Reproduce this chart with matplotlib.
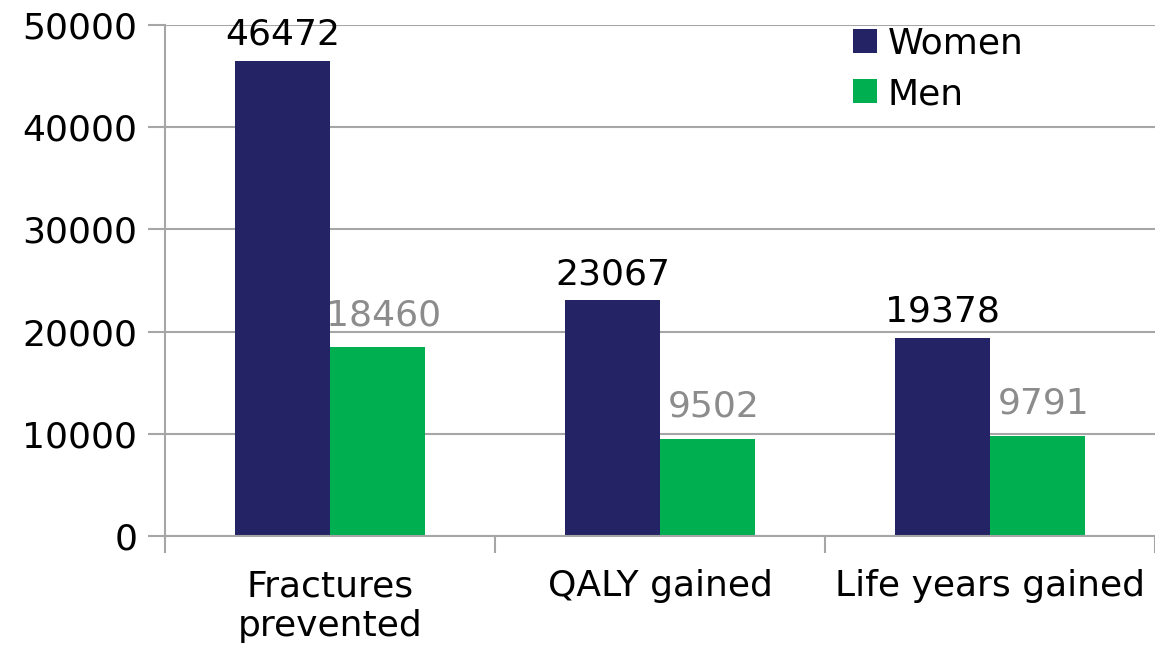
import matplotlib.pyplot as plt
import numpy as np

categories = ['Fractures\nprevented', 'QALY gained', 'Life years gained']
women = [46472, 23067, 19378]
men = [18460, 9502, 9791]

x = np.arange(len(categories))
w = 0.287

fig = plt.figure(figsize=(11.55, 6.49), dpi=100)
ax = fig.add_axes([0.1429, 0.1741, 0.857, 0.7874])

ax.bar(x - w / 2, women, w, color='#232365', label='Women')
ax.bar(x + w / 2, men, w, color='#00B050', label='Men')

# value labels
for xi, v in zip(x, women):
    ax.text(xi - w / 2, v + 900, str(v), ha='center', va='bottom', fontsize=26, color='black')
for xi, v in zip(x, men):
    ax.text(xi + w / 2 + 0.02, v + 1500, str(v), ha='center', va='bottom', fontsize=26, color='#8C8C8C')

ax.set_xlim(-0.5, 2.5)
ax.set_ylim(0, 50000)
ax.set_yticks(range(0, 50001, 10000))
ax.yaxis.grid(True, color='#A6A6A6', linewidth=1.5)
ax.set_axisbelow(True)

ax.set_xticks([-0.5, 0.5, 1.5, 2.5])
ax.set_xticklabels([])
ax.set_xticks(x, minor=True)
ax.set_xticklabels(categories, minor=True, fontsize=26)
ax.tick_params(axis='x', which='minor', length=0, pad=24)
ax.tick_params(axis='x', which='major', length=12, color='#A6A6A6', width=1.5)
ax.tick_params(axis='y', labelsize=26, length=12, color='#A6A6A6', width=1.5, pad=8)

for s in ['top', 'right']:
    ax.spines[s].set_visible(False)
for s in ['left', 'bottom']:
    ax.spines[s].set_color('#A6A6A6')
    ax.spines[s].set_linewidth(1.5)

ax.legend(loc='upper right', bbox_to_anchor=(0.9, 1.06), fontsize=26, frameon=False,
          handlelength=0.65, handleheight=0.65, handletextpad=0.3, labelspacing=0.45)

fig.savefig('out.png', dpi=100)
